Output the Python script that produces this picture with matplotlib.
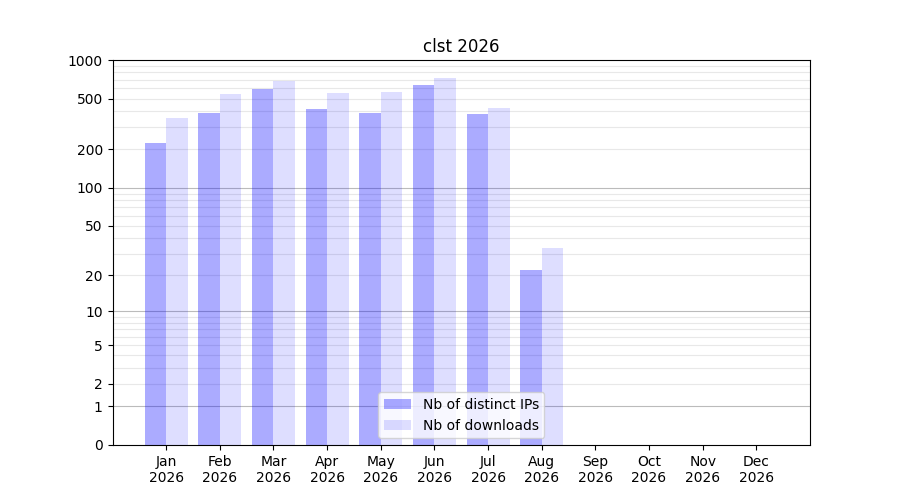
import numpy as np
import matplotlib
matplotlib.use("Agg")
import matplotlib.pyplot as plt

months = ["Jan", "Feb", "Mar", "Apr", "May", "Jun", "Jul", "Aug", "Sep", "Oct", "Nov", "Dec"]
year = "2026"
ips = [225, 386, 595, 415, 386, 638, 379, 22, 0, 0, 0, 0]
downloads = [353, 543, 686, 553, 563, 724, 423, 33, 0, 0, 0, 0]
yticks = [0, 1, 2, 5, 10, 20, 50, 100, 200, 500, 1000]

fig, ax = plt.subplots(figsize=(9, 5), dpi=100)

fwd = lambda v: np.log10(1 + np.maximum(v, 0))
inv = lambda y: 10 ** y - 1
ax.set_yscale("function", functions=(fwd, inv))

x = np.arange(len(months))
ax.bar(x, ips, width=-0.4, align="edge", color="blue", alpha=0.33, label="Nb of distinct IPs", zorder=2)
ax.bar(x, downloads, width=0.4, align="edge", color="blue", alpha=0.13, label="Nb of downloads", zorder=2)

# grid
for d in [1, 10, 100]:
    ax.axhline(d, color="#bbbbbb", lw=0.8, zorder=1)
    for m in range(2, 10):
        ax.axhline(d * m, color="#e8e8e8", lw=0.8, zorder=1)

ax.set_ylim(0, 1000)
ax.set_xlim(-1, 12)
ax.set_yticks(yticks)
ax.set_yticklabels([str(t) for t in yticks])
ax.minorticks_off()
ax.set_xticks(x)
ax.set_xticklabels([f"{m}\n{year}" for m in months])
ax.set_title("clst 2026")
ax.legend(loc="lower center")

fig.savefig("out.png")
